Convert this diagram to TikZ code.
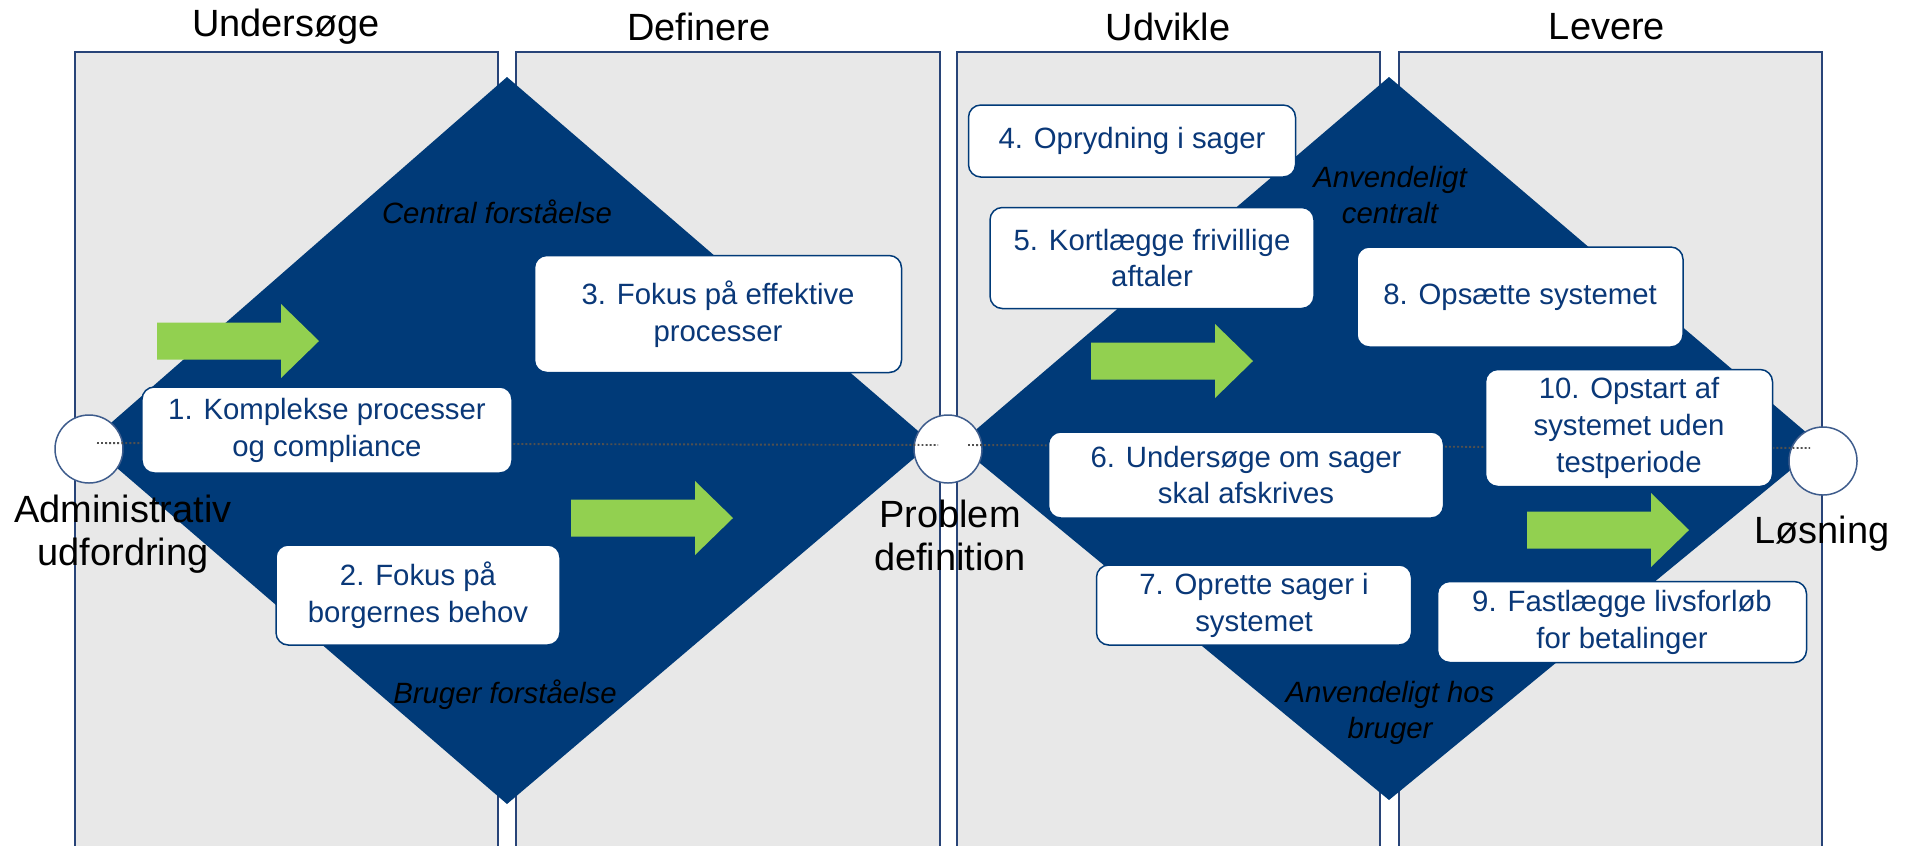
\documentclass[tikz,border=0pt]{standalone}
\usepackage{fontspec}
\setmainfont{Liberation Sans}
\definecolor{diamondblue}{RGB}{0,58,120}
\definecolor{taskblue}{RGB}{10,56,120}
\definecolor{panelgray}{RGB}{232,232,232}
\definecolor{panelline}{RGB}{40,68,120}
\definecolor{ringline}{RGB}{62,92,140}
\definecolor{arrowgreen}{RGB}{146,208,80}
\definecolor{dotgray}{RGB}{80,80,80}
\newlength\pxu
\setlength\pxu{0.2mm}
\begin{document}
\begin{tikzpicture}[x=0.2mm, y=-0.2mm,
    panel/.style = {fill=panelgray, draw=panelline, line width=0.75pt},
    task/.style = {draw=diamondblue, fill=white, line width=0.85pt, rounded corners=7pt,
      align=center, text=taskblue, inner sep=0pt, font=\fontsize{16.7}{21}\selectfont},
    note/.style = {align=center, inner sep=0pt, font=\itshape\fontsize{16.7}{20.5}\selectfont},
    phase/.style = {inner sep=0pt, font=\fontsize{21.6}{26}\selectfont},
    endpoint/.style = {circle, draw=ringline, fill=white, line width=0.85pt, minimum size=68\pxu, inner sep=0pt},
    endlabel/.style = {align=center, inner sep=0pt, font=\fontsize{21.6}{24.5}\selectfont},
    dots/.style = {draw=dotgray, line width=1.1pt, dash pattern=on 1.1pt off 1.2pt}]
  \useasboundingbox (0,0) rectangle (1908,845);
  \clip (0,0) rectangle (1908,845);
  % four phase panels
  \draw [panel] (75,52) rectangle (498,860);
  \draw [panel] (516,52) rectangle (940,860);
  \draw [panel] (957,52) rectangle (1380,860);
  \draw [panel] (1399,52) rectangle (1822,860);
  % double diamond
  \fill [diamondblue] (88,443) -- (507,77) -- (932,443) -- (507,804) -- cycle;
  \fill [diamondblue] (958,445) -- (1389,77) -- (1821,445) -- (1389,800) -- cycle;
  % green arrows
  \foreach \ax/\ay in {157/341, 571/518, 1091/361, 1527/530}
    \fill [arrowgreen] (\ax,\ay) ++(0,-18.5) -- ++(124,0) -- ++(0,-18.5) -- ++(38,37)
      -- ++(-38,37) -- ++(0,-18.5) -- ++(-124,0) -- cycle;
  % start, middle and end
  \node [endpoint] (start) at (89,449) {};
  \node [endpoint] (problem) at (948,449) {};
  \node [endpoint] (finish) at (1823,461) {};
  \draw [dots] ([shift={(8,-6)}]start.center) -- ([shift={(-10,-4)}]problem.center);
  \draw [dots] ([shift={(20,-4)}]problem.center) -- ([shift={(-13,-13)}]finish.center);
  % steps
  \node [task, minimum width=370\pxu, minimum height=86\pxu] (b1) at (327,430) {1. Komplekse processer\\og compliance};
  \node [task, minimum width=284\pxu, minimum height=100\pxu] (b2) at (418,595) {2. Fokus på\\borgernes behov};
  \node [task, minimum width=367\pxu, minimum height=117\pxu] (b3) at (718,314) {3. Fokus på effektive\\processer};
  \node [task, minimum width=327\pxu, minimum height=72\pxu] (b4) at (1132,141) {4. Oprydning i sager};
  \node [task, minimum width=324\pxu, minimum height=101\pxu] (b5) at (1152,258) {5. Kortlægge frivillige\\aftaler};
  \node [task, minimum width=395\pxu, minimum height=86\pxu] (b6) at (1246,475) {6. Undersøge om sager\\skal afskrives};
  \node [task, minimum width=315\pxu, minimum height=80\pxu] (b7) at (1254,605) {7. Oprette sager i\\systemet};
  \node [task, minimum width=326\pxu, minimum height=100\pxu] (b8) at (1520,297) {8. Opsætte systemet};
  \node [task, minimum width=369\pxu, minimum height=81\pxu] (b9) at (1622,622) {9. Fastlægge livsforløb\\for betalinger};
  \node [task, minimum width=287\pxu, minimum height=117\pxu] (b10) at (1629,428) {10. Opstart af\\systemet uden\\testperiode};
  % diamond notes
  \node [note] (central) at (497,212) {Central forståelse};
  \node [note] (bruger) at (505,695) {Bruger forståelse};
  \node [note] (anvcentral) at (1390,195) {Anvendeligt\\centralt};
  \node [note] (anvbruger) at (1390,713) {Anvendeligt hos\\bruger};
  % phase titles
  \node [phase] (t1) at (286,27) {Undersøge};
  \node [phase] (t2) at (699,27) {Definere};
  \node [phase] (t3) at (1168,27) {Udvikle};
  \node [phase] (t4) at (1607,27) {Levere};
  % end labels
  \node [endlabel] (startlabel) at (123,534) {Administrativ\\udfordring};
  \node [endlabel] (problemlabel) at (950,535) {Problem\\definition};
  \node [endlabel] (finishlabel) at (1822,534) {Løsning};
\end{tikzpicture}
\end{document}
